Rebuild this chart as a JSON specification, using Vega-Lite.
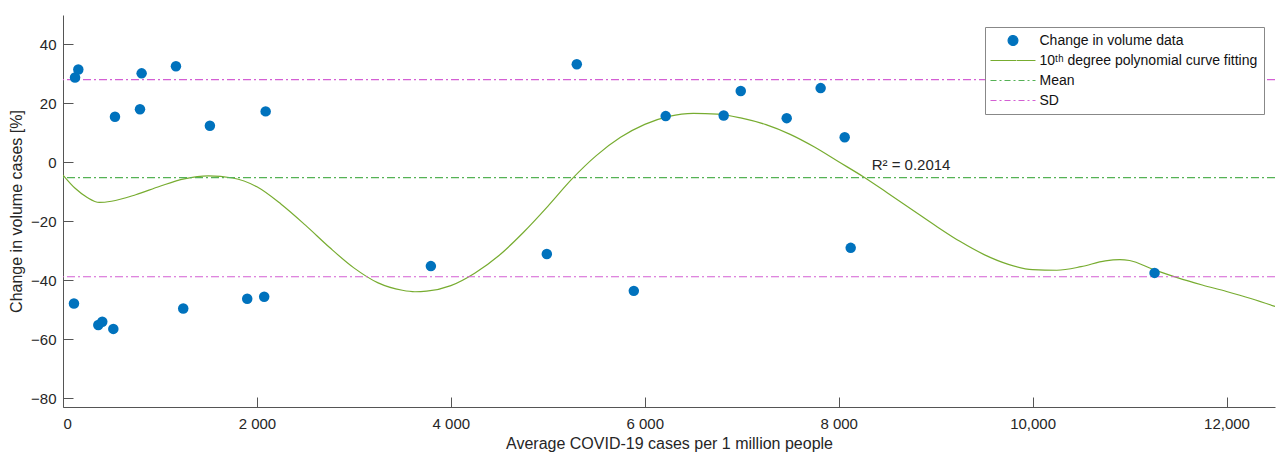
{
  "$schema": "https://vega.github.io/schema/vega-lite/v6.json",
  "width": 1212,
  "height": 392,
  "autosize": {"type": "none"},
  "padding": {"left": 63, "top": 15, "right": 6, "bottom": 47},
  "background": "white",
  "config": {
    "view": {"stroke": null},
    "font": "Liberation Sans",
    "axis": {
      "grid": false,
      "domainColor": "#555555",
      "tickColor": "#555555",
      "labelColor": "#262626",
      "titleColor": "#262626",
      "labelFontSize": 15,
      "titleFontSize": 16,
      "titleFontWeight": "normal",
      "tickSize": -10,
      "labelFont": "Liberation Sans",
      "titleFont": "Liberation Sans"
    }
  },
  "datasets": {
    "points": [
      {"x": 124, "y": 28.8}, {"x": 158, "y": 31.5}, {"x": 536, "y": 15.5}, {"x": 794, "y": 18.0},
      {"x": 811, "y": 30.2}, {"x": 1165, "y": 32.6}, {"x": 1515, "y": 12.4}, {"x": 2090, "y": 17.3},
      {"x": 113, "y": -47.9}, {"x": 364, "y": -55.2}, {"x": 405, "y": -54.1}, {"x": 519, "y": -56.5},
      {"x": 1240, "y": -49.6}, {"x": 1900, "y": -46.3}, {"x": 2075, "y": -45.6},
      {"x": 3794, "y": -35.2}, {"x": 4990, "y": -31.1}, {"x": 5299, "y": 33.3}, {"x": 5887, "y": -43.6},
      {"x": 6216, "y": 15.7}, {"x": 6814, "y": 15.9}, {"x": 6990, "y": 24.2}, {"x": 7464, "y": 15.0},
      {"x": 7814, "y": 25.2}, {"x": 8062, "y": 8.5}, {"x": 8124, "y": -29.0}, {"x": 11258, "y": -37.5}
    ],
    "curve": [
      {"x": 0, "y": -4.3}, {"x": 125, "y": -8.8}, {"x": 250, "y": -11.9}, {"x": 375, "y": -13.6},
      {"x": 500, "y": -13.2}, {"x": 750, "y": -11.0}, {"x": 1000, "y": -8.1}, {"x": 1250, "y": -5.6},
      {"x": 1500, "y": -4.6}, {"x": 1750, "y": -5.3}, {"x": 2000, "y": -8.3}, {"x": 2250, "y": -14.2},
      {"x": 2500, "y": -21.3}, {"x": 2750, "y": -28.9}, {"x": 3000, "y": -35.8}, {"x": 3250, "y": -40.9},
      {"x": 3500, "y": -43.4}, {"x": 3629, "y": -43.9}, {"x": 3750, "y": -43.7}, {"x": 4000, "y": -41.8},
      {"x": 4250, "y": -37.5}, {"x": 4500, "y": -31.5}, {"x": 4750, "y": -23.7}, {"x": 5000, "y": -14.9},
      {"x": 5250, "y": -5.6}, {"x": 5500, "y": 2.3}, {"x": 5750, "y": 8.5}, {"x": 6000, "y": 12.9},
      {"x": 6250, "y": 15.6}, {"x": 6500, "y": 16.6}, {"x": 6750, "y": 16.4}, {"x": 7000, "y": 15.0},
      {"x": 7250, "y": 12.8}, {"x": 7500, "y": 9.5}, {"x": 7750, "y": 5.2}, {"x": 8000, "y": 0.2},
      {"x": 8250, "y": -4.8}, {"x": 8500, "y": -10.3}, {"x": 8750, "y": -15.9}, {"x": 9000, "y": -21.5},
      {"x": 9250, "y": -26.8}, {"x": 9500, "y": -31.3}, {"x": 9750, "y": -34.6}, {"x": 10000, "y": -36.4},
      {"x": 10250, "y": -36.6}, {"x": 10500, "y": -35.4}, {"x": 10750, "y": -33.4}, {"x": 10900, "y": -33.0},
      {"x": 11000, "y": -33.3}, {"x": 11250, "y": -36.4}, {"x": 11500, "y": -39.2}, {"x": 11750, "y": -41.6},
      {"x": 12000, "y": -43.8}, {"x": 12250, "y": -46.2}, {"x": 12500, "y": -48.9}
    ],
    "stats": [
      {"series": "Mean", "v": -5.2},
      {"series": "SD", "v": 28.1},
      {"series": "SD", "v": -38.8}
    ],
    "notes": [
      {"x": 8340, "y": -0.9, "label": "R² = 0.2014"}
    ]
  },
  "layer": [
    {
      "data": {"name": "curve"},
      "mark": {"type": "line", "strokeWidth": 1.2, "interpolate": "monotone", "clip": true},
      "encoding": {
        "x": {
          "field": "x", "type": "quantitative",
          "scale": {"domain": [0, 12500], "nice": false, "zero": false},
          "axis": {
            "title": "Average COVID-19 cases per 1 million people",
            "values": [0, 2000, 4000, 6000, 8000, 10000, 12000],
            "labelExpr": "datum.value >= 10000 ? format(datum.value, ',') : replace(format(datum.value, ','), ',', ' ')",
            "labelPadding": 19,
            "titlePadding": 4
          }
        },
        "y": {
          "field": "y", "type": "quantitative",
          "scale": {"domain": [-83, 50], "nice": false, "zero": false},
          "axis": {
            "title": "Change in volume cases [%]",
            "values": [-80, -60, -40, -20, 0, 20, 40],
            "labelPadding": 17,
            "titlePadding": 6
          }
        },
        "color": {
          "datum": "10ᵗʰ degree polynomial curve fitting",
          "type": "nominal",
          "title": null,
          "scale": {
            "domain": ["Change in volume data", "10ᵗʰ degree polynomial curve fitting", "Mean", "SD"],
            "range": ["#0072BD", "#77AC30", "#55B255", "#D45FD4"]
          },
          "legend": {
            "title": null,
            "orient": "none",
            "legendX": 922,
            "legendY": 12,
            "fillColor": "white",
            "strokeColor": "#888888",
            "padding": 6,
            "labelFontSize": 14,
            "labelColor": "#111111",
            "labelFont": "Liberation Sans",
            "symbolOffset": 14.5,
            "labelOffset": 19,
            "rowPadding": 5,
            "labelLimit": 400,
            "encode": {
              "symbols": {
                "update": {
                  "shape": {"signal": "datum.value === 'Change in volume data' ? 'M-0.75,0A0.75,0.75,0,1,0,0.75,0A0.75,0.75,0,1,0,-0.75,0Z' : 'M-3.46,0L3.46,0'"},
                  "size": {"value": 169},
                  "strokeDash": {"signal": "datum.value === 'Mean' || datum.value === 'SD' ? [6, 3, 2, 3] : [1, 0]"},
                  "fill": {"signal": "datum.value === 'Change in volume data' ? '#0072BD' : 'transparent'"},
                  "stroke": {"signal": "datum.value === 'Change in volume data' ? '#0072BD' : datum.value === 'Mean' ? '#55B255' : datum.value === 'SD' ? '#D45FD4' : '#77AC30'"},
                  "strokeWidth": {"value": 1.2},
                  "opacity": {"value": 1}
                }
              }
            }
          }
        }
      }
    },
    {
      "data": {"name": "stats"},
      "mark": {"type": "rule", "strokeWidth": 1.2, "strokeDash": [8, 3, 2, 3]},
      "encoding": {
        "y": {"field": "v", "type": "quantitative"},
        "color": {"field": "series", "type": "nominal", "title": null}
      }
    },
    {
      "data": {"name": "points"},
      "mark": {"type": "point", "filled": true, "opacity": 1, "size": 110},
      "encoding": {
        "x": {"field": "x", "type": "quantitative"},
        "y": {"field": "y", "type": "quantitative"},
        "color": {"datum": "Change in volume data", "type": "nominal", "title": null}
      }
    },
    {
      "data": {"name": "notes"},
      "mark": {"type": "text", "align": "left", "baseline": "middle", "fontSize": 15, "color": "#262626", "font": "Liberation Sans"},
      "encoding": {
        "x": {"field": "x", "type": "quantitative"},
        "y": {"field": "y", "type": "quantitative"},
        "text": {"field": "label"}
      }
    }
  ]
}
